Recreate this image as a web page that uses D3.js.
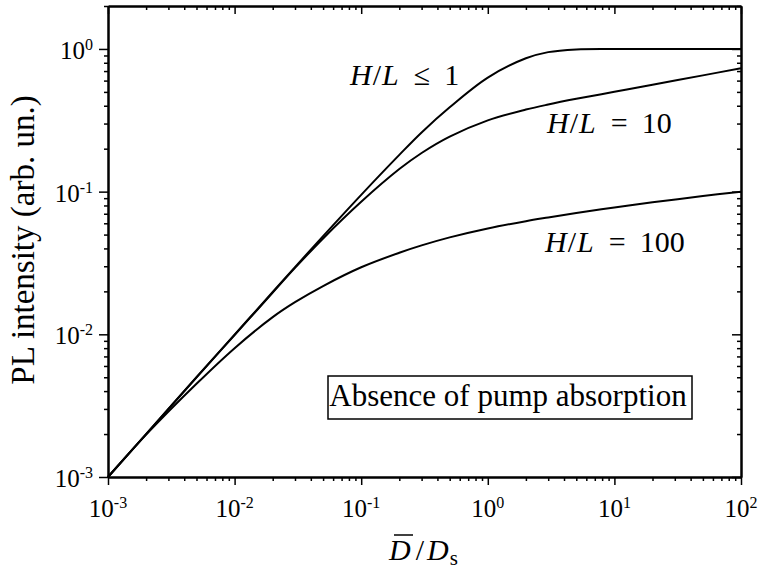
<!DOCTYPE html>
<html>
<head>
<meta charset="utf-8">
<script src="https://cdn.jsdelivr.net/npm/d3@7/dist/d3.min.js"></script>
<style>
  body { margin: 0; background: #fff; }
  text { font-family: "Liberation Serif", "Times New Roman", serif; fill: #000; }
</style>
</head>
<body>
<script>
// D/Ds values where the curves were read
var ratio = [0.001, 0.002, 0.005, 0.01, 0.02, 0.03, 0.05, 0.1, 0.2, 0.3, 0.5, 1, 2, 3, 5, 10, 20, 50, 100]
// PL intensity, H/L <= 1
var plLe1 = [0.001, 0.002, 0.005, 0.00995, 0.0198, 0.0296, 0.0488, 0.095, 0.181, 0.26, 0.39, 0.63, 0.86, 0.95, 0.993, 1, 1, 1, 1]
// PL intensity, H/L = 10
var pl10 = [0.001, 0.002, 0.00499, 0.00989, 0.0196, 0.0292, 0.047, 0.0849, 0.1439, 0.1866, 0.243, 0.316, 0.376, 0.408, 0.447, 0.501, 0.562, 0.653, 0.733]
// PL intensity, H/L = 100
var pl100 = [0.001, 0.00198, 0.0045, 0.008, 0.0132, 0.0168, 0.0218, 0.0295, 0.0373, 0.042, 0.0478, 0.0552, 0.0621, 0.0659, 0.0708, 0.0774, 0.0841, 0.0931, 0.1]

var xExps = [-3, -2, -1, 0, 1, 2]
var yExps = [-3, -2, -1, 0]

var W = 761, H = 569
var mL = 108, mR = 741, mT = 6, mB = 477

var svg = d3.select("body").append("svg")
    .attr("width", W)
    .attr("height", H)

var x = d3.scaleLog().domain([1e-3, 1e2]).range([mL, mR])
var y = d3.scaleLog().domain([1e-3, 2]).range([mB, mT])

function minors(lo, hi) {
  var out = []
  for (var e = lo; e < hi; e++)
    for (var d = 2; d <= 9; d++)
      out.push(d * Math.pow(10, e))
  return out
}
var xMinor = minors(-3, 2)
var yMinor = minors(-3, 0).concat([2])
var xMajor = xExps.map(function (e) { return Math.pow(10, e) })
var yMajor = yExps.map(function (e) { return Math.pow(10, e) })

function styleAxis(g) {
  g.selectAll("path").attr("stroke", "#000").attr("stroke-width", 2)
  g.selectAll("line").attr("stroke", "#000").attr("stroke-width", 1.5)
  g.selectAll("text").remove()
}

// bottom (outward ticks)
svg.append("g").attr("transform", "translate(0," + mB + ")")
  .call(d3.axisBottom(x).tickValues(xMajor).tickSizeInner(8).tickSizeOuter(0)).call(styleAxis)
svg.append("g").attr("transform", "translate(0," + mB + ")")
  .call(d3.axisBottom(x).tickValues(xMinor).tickSizeInner(4).tickSizeOuter(0)).call(styleAxis)
// top (inward ticks)
svg.append("g").attr("transform", "translate(0," + mT + ")")
  .call(d3.axisTop(x).tickValues(xMajor).tickSizeInner(-8).tickSizeOuter(0)).call(styleAxis)
svg.append("g").attr("transform", "translate(0," + mT + ")")
  .call(d3.axisTop(x).tickValues(xMinor).tickSizeInner(-4).tickSizeOuter(0)).call(styleAxis)
// left (outward)
svg.append("g").attr("transform", "translate(" + mL + ",0)")
  .call(d3.axisLeft(y).tickValues(yMajor).tickSizeInner(9).tickSizeOuter(0)).call(styleAxis)
svg.append("g").attr("transform", "translate(" + mL + ",0)")
  .call(d3.axisLeft(y).tickValues(yMinor).tickSizeInner(4).tickSizeOuter(0)).call(styleAxis)
// right (inward)
svg.append("g").attr("transform", "translate(" + mR + ",0)")
  .call(d3.axisRight(y).tickValues(yMajor).tickSizeInner(-9).tickSizeOuter(0)).call(styleAxis)
svg.append("g").attr("transform", "translate(" + mR + ",0)")
  .call(d3.axisRight(y).tickValues(yMinor).tickSizeInner(-4).tickSizeOuter(0)).call(styleAxis)

// tick labels: 10 with superscript exponent
function powLabel(sel) {
  sel.append("tspan").text("10")
  sel.append("tspan").attr("dy", -9).style("font-size", "16px")
    .text(function (e) { return e })
}
svg.append("g").selectAll("text")
    .data(xExps)
    .enter()
  .append("text")
    .attr("x", function (e) { return x(Math.pow(10, e)) })
    .attr("y", 517)
    .style("font-size", "25px")
    .attr("text-anchor", "middle")
    .call(powLabel)
svg.append("g").selectAll("text")
    .data(yExps)
    .enter()
  .append("text")
    .attr("x", 93)
    .attr("y", function (e) { return y(Math.pow(10, e)) + 10 })
    .style("font-size", "25px")
    .attr("text-anchor", "end")
    .call(powLabel)

// curves
var line = d3.line()
    .x(function (d) { return x(d[0]) })
    .y(function (d) { return y(d[1]) })
    .curve(d3.curveCatmullRom.alpha(0.5))

;[plLe1, pl10, pl100].forEach(function (s) {
  svg.append("path")
    .datum(d3.zip(ratio, s))
    .attr("d", line)
    .attr("fill", "none")
    .attr("stroke", "#000")
    .attr("stroke-width", 2)
})

// curve labels
function mathLabel(px, py, rel, num) {
  var t = svg.append("text").attr("x", px).attr("y", py)
    .style("font-size", "30px")
  t.append("tspan").style("font-style", "italic").text("H")
  t.append("tspan").attr("dx", 1).text("/")
  t.append("tspan").attr("dx", 1).style("font-style", "italic").text("L")
  t.append("tspan").attr("dx", 15).text(rel)
  t.append("tspan").attr("dx", 14).text(num)
}
mathLabel(350, 85, "\u2264", "1")
mathLabel(547, 133, "=", "10")
mathLabel(545, 252, "=", "100")

// annotation box
svg.append("rect")
    .attr("x", 328).attr("y", 376)
    .attr("width", 364).attr("height", 43)
    .attr("fill", "none").attr("stroke", "#000").attr("stroke-width", 1.5)
svg.append("text")
    .attr("x", 508).attr("y", 406)
    .attr("text-anchor", "middle")
    .style("font-size", "31px")
    .text("Absence of pump absorption")

// axis titles
svg.append("text")
    .attr("transform", "translate(34,240) rotate(-90)")
    .attr("text-anchor", "middle")
    .style("font-size", "33px")
    .text("PL intensity (arb. un.)")

var xt = svg.append("text").attr("x", 389).attr("y", 560).style("font-size", "30px")
xt.append("tspan").style("font-style", "italic").text("D")
xt.append("tspan").attr("dx", 5).text("/")
xt.append("tspan").attr("dx", 3).style("font-style", "italic").text("D")
xt.append("tspan").attr("dy", 5).attr("dx", 1).style("font-size", "21px").text("s")
svg.append("line")
    .attr("x1", 394).attr("x2", 413)
    .attr("y1", 535).attr("y2", 535)
    .attr("stroke", "#000").attr("stroke-width", 1.5)
</script>
</body>
</html>
